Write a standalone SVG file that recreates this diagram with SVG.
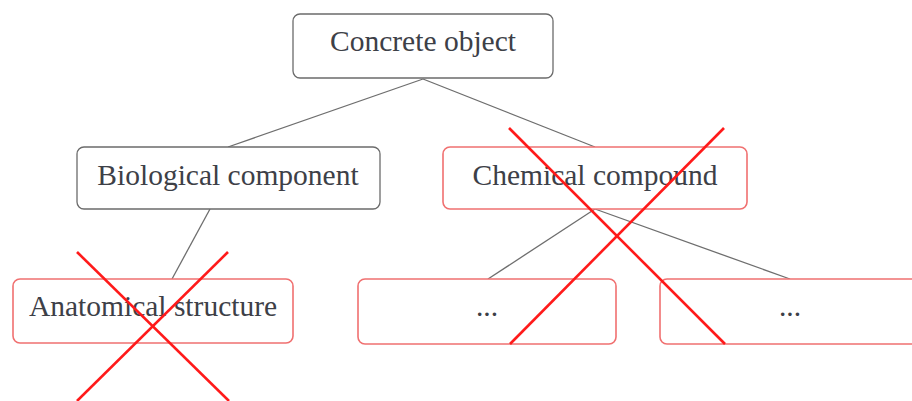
<svg xmlns="http://www.w3.org/2000/svg" width="912" height="401" viewBox="0 0 912 401">
<style>
.box{fill:#fff;stroke:#6b6b6b;stroke-width:1.3}
.crossed{fill:#fff;stroke:#f07070;stroke-width:1.6}
.lbl{font-family:"Liberation Serif","Times New Roman",serif;font-size:29.5px;fill:#3d4047;text-anchor:middle}
.edge{stroke:#6e6e6e;stroke-width:1.3;fill:none}
.x{stroke:#ff1a1a;stroke-width:2.6;stroke-linecap:butt}
</style>
<rect width="912" height="401" fill="#fff"/>
<g id="connectors">
<line class="edge" x1="423" y1="79" x2="228" y2="147"/>
<line class="edge" x1="423" y1="79" x2="595" y2="147"/>
<line class="edge" x1="210" y1="209" x2="172" y2="279"/>
<line class="edge" x1="595" y1="209" x2="488" y2="279"/>
<line class="edge" x1="595" y1="209" x2="790" y2="279"/>
</g>
<g id="concrete-object">
<rect class="box" x="293" y="14" width="260" height="64" rx="7"/>
<text class="lbl" x="423" y="51">Concrete object</text>
</g>
<g id="biological-component">
<rect class="box" x="77" y="147" width="303" height="62" rx="7"/>
<text class="lbl" x="228" y="185">Biological component</text>
</g>
<g id="chemical-compound">
<rect class="crossed" x="443" y="147" width="304" height="62" rx="7"/>
<text class="lbl" x="595" y="185">Chemical compound</text>
</g>
<g id="anatomical-structure">
<rect class="crossed" x="13" y="279" width="280" height="64" rx="7"/>
<text class="lbl" x="153" y="316">Anatomical structure</text>
</g>
<g id="other-1">
<rect class="crossed" x="358" y="279" width="258" height="65" rx="7"/>
<text class="lbl" x="487" y="316">...</text>
</g>
<g id="other-2">
<rect class="crossed" x="660" y="279" width="270" height="65" rx="7"/>
<text class="lbl" x="790" y="316">...</text>
</g>
<g id="crosses">
<line class="x" x1="77" y1="252" x2="229" y2="401"/>
<line class="x" x1="228" y1="252" x2="77" y2="401"/>
<line class="x" x1="509" y1="128" x2="725" y2="344"/>
<line class="x" x1="724" y1="128" x2="510" y2="344"/>
</g>
</svg>
